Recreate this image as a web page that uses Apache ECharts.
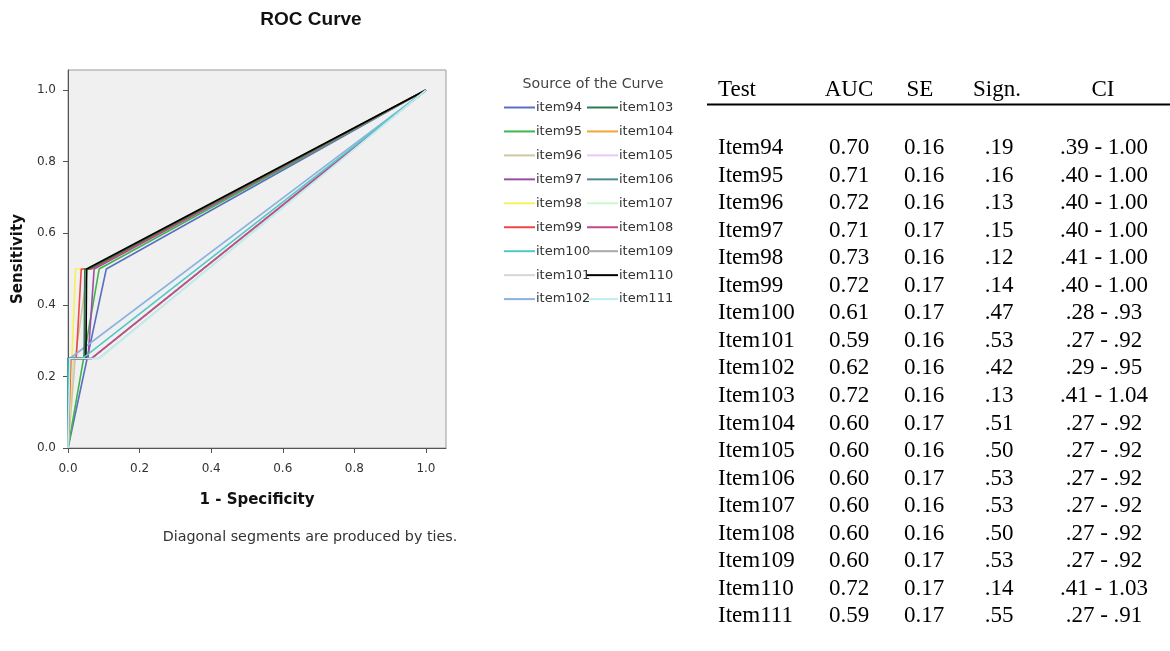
<!DOCTYPE html>
<html>
<head>
<meta charset="utf-8">
<script src="https://cdn.jsdelivr.net/npm/echarts@6/dist/echarts.min.js"></script>
<style>
html,body{margin:0;padding:0;background:#fff;}
#chart{width:1170px;height:651px;}
</style>
</head>
<body>
<div id="chart"></div>
<script>
// ---------- DATA ----------
const seriesNames = ['item94','item95','item96','item97','item98','item99','item100','item101','item102',
  'item103','item104','item105','item106','item107','item108','item109','item110','item111'];

// ROC points [1 - Specificity, Sensitivity]
const roc94  = [[0,0],[0.107,0.5],[1,1]];
const roc95  = [[0,0],[0.087,0.5],[1,1]];
const roc96  = [[0,0],[0.02,0.25],[0.055,0.5],[1,1]];
const roc97  = [[0,0],[0.005,0.25],[0.056,0.25],[0.073,0.5],[1,1]];
const roc98  = [[0,0],[0.011,0.25],[0.021,0.5],[0.055,0.5],[1,1]];
const roc99  = [[0,0],[0.008,0.25],[0.023,0.25],[0.037,0.5],[0.065,0.5],[1,1]];
const roc100 = [[0,0],[0,0.25],[0.04,0.25],[1,1]];
const roc101 = [[0,0],[0.015,0.25],[0.085,0.25],[1,1]];
const roc102 = [[0,0],[0.005,0.25],[1,1]];
const roc103 = [[0,0],[0,0.25],[0.045,0.25],[0.047,0.5],[0.06,0.5],[1,1]];
const roc104 = [[0,0],[0.005,0.25],[0.065,0.25],[1,1]];
const roc105 = [[0,0],[0.01,0.25],[0.065,0.25],[1,1]];
const roc106 = [[0,0],[0,0.25],[0.065,0.25],[1,1]];
const roc107 = [[0,0],[0.005,0.25],[0.065,0.25],[1,1]];
const roc108 = [[0,0],[0.005,0.25],[0.065,0.25],[1,1]];
const roc109 = [[0,0],[0,0.25],[0.065,0.25],[1,1]];
const roc110 = [[0,0],[0,0.25],[0.05,0.25],[0.052,0.5],[1,1]];
const roc111 = [[0,0],[0.005,0.25],[0.088,0.25],[1,1]];
const rocData = [roc94,roc95,roc96,roc97,roc98,roc99,roc100,roc101,roc102,
  roc103,roc104,roc105,roc106,roc107,roc108,roc109,roc110,roc111];

const axisTicks = [0, 0.2, 0.4, 0.6, 0.8, 1.0];

// table
const tableHeader = ['Test','AUC','SE','Sign.','CI'];
const testNames = ['Item94','Item95','Item96','Item97','Item98','Item99','Item100','Item101','Item102',
  'Item103','Item104','Item105','Item106','Item107','Item108','Item109','Item110','Item111'];
const aucVals = ['0.70','0.71','0.72','0.71','0.73','0.72','0.61','0.59','0.62','0.72','0.60','0.60','0.60','0.60','0.60','0.60','0.72','0.59'];
const seVals = ['0.16','0.16','0.16','0.17','0.16','0.17','0.17','0.16','0.16','0.16','0.17','0.16','0.17','0.16','0.16','0.17','0.17','0.17'];
const signVals = ['.19','.16','.13','.15','.12','.14','.47','.53','.42','.13','.51','.50','.53','.53','.50','.53','.14','.55'];
const ciVals = ['.39 - 1.00','.40 - 1.00','.40 - 1.00','.40 - 1.00','.41 - 1.00','.40 - 1.00','.28 - .93','.27 - .92','.29 - .95',
  '.41 - 1.04','.27 - .92','.27 - .92','.27 - .92','.27 - .92','.27 - .92','.27 - .92','.41 - 1.03','.27 - .91'];

// ---------- STYLE ----------
const seriesColors = ['#5a6fc2','#3fb54e','#cfc7a0','#9a4fa3','#f7f05a','#f04646','#4fc9c6','#d6d6d6','#8bb2e0',
  '#2f7a50','#f5a236','#e6c9f6','#4d8a98','#cdf7cd','#c24a8a','#a9a9a9','#000000','#bfeef0'];
const seriesZ = [3,3,3,3,3,3,4,2,3, 3,2,2,2,2,3,2,3,4];
const chartFont = 'DejaVu Sans';
const tableFont = '"Liberation Serif", "Times New Roman", serif';

const chart = echarts.init(document.getElementById('chart'), null, {renderer: 'canvas'});

const series = seriesNames.map((n, i) => ({
  name: n,
  type: 'line',
  data: rocData[i],
  showSymbol: false,
  symbol: 'none',
  color: seriesColors[i],
  lineStyle: {width: 1.6, color: seriesColors[i]},
  animation: false,
  z: seriesZ[i]
}));

// table graphics
const graphics = [];
graphics.push({type:'text', style:{text:'ROC Curve', x:311, y:20, textAlign:'center', textVerticalAlign:'middle',
  font:'bold 19px "Liberation Sans", Arial, sans-serif', fill:'#111'}});
graphics.push({type:'text', style:{text:'Diagonal segments are produced by ties.', x:310, y:537, textAlign:'center', textVerticalAlign:'middle',
  font:'14.3px ' + chartFont, fill:'#333'}});
graphics.push({type:'text', style:{text:'Source of the Curve', x:593, y:84, textAlign:'center', textVerticalAlign:'middle',
  font:'14.2px ' + chartFont, fill:'#444'}});

const headX = [718, 849, 920, 997, 1103];
const headAlign = ['left','center','center','center','center'];
tableHeader.forEach((h, j) => {
  graphics.push({type:'text', style:{text:h, x:headX[j], y:90, textAlign:headAlign[j], textVerticalAlign:'middle',
    font:'23px ' + tableFont, fill:'#000'}});
});
graphics.push({type:'line', shape:{x1:707, y1:104.5, x2:1170, y2:104.5}, style:{stroke:'#000', lineWidth:2}});

const colX = [718, 849, 924, 999, 1104];
testNames.forEach((t, i) => {
  const y = 148 + i * 27.55;
  const vals = [t, aucVals[i], seVals[i], signVals[i], ciVals[i]];
  vals.forEach((v, j) => {
    graphics.push({type:'text', style:{text:v, x:colX[j], y:y, textAlign: j === 0 ? 'left' : 'center',
      textVerticalAlign:'middle', font:'23px ' + tableFont, fill:'#000'}});
  });
});

const axisCommon = {
  type: 'value',
  min: 0,
  max: 1.056,
  nameLocation: 'middle',
  nameTextStyle: {fontFamily: chartFont, fontWeight: 'bold', fontSize: 15, color: '#111'},
  axisLine: {show: true, onZero: false, lineStyle: {color: '#555', width: 1}},
  axisTick: {show: true, inside: false, length: 5, lineStyle: {color: '#555'}, customValues: axisTicks},
  axisLabel: {fontFamily: chartFont, fontSize: 12, color: '#333', customValues: axisTicks,
    formatter: v => v.toFixed(1)},
  splitLine: {show: false}
};

const legendCommon = {
  orient: 'vertical',
  padding: 0,
  itemWidth: 31,
  itemHeight: 14,
  itemGap: 10.95,
  selectedMode: false,
  itemStyle: {opacity: 0, borderWidth: 0},
  textStyle: {fontFamily: chartFont, fontSize: 13, color: '#333', padding: [0,0,0,-4]}
};

chart.setOption({
  animation: false,
  backgroundColor: '#fff',
  grid: {left: 68, top: 70, width: 378, height: 378, show: true, backgroundColor: '#f0f0f0', borderColor: '#9a9a9a', borderWidth: 1},
  xAxis: Object.assign({}, axisCommon, {name: '1 - Specificity', nameGap: 45,
    axisLabel: Object.assign({}, axisCommon.axisLabel, {margin: 15})}),
  yAxis: Object.assign({}, axisCommon, {name: 'Sensitivity', nameGap: 42, nameRotate: 90,
    axisLabel: Object.assign({}, axisCommon.axisLabel, {margin: 12})}),
  legend: [
    Object.assign({}, legendCommon, {left: 503, top: 101, data: seriesNames.slice(0, 9)}),
    Object.assign({}, legendCommon, {left: 586, top: 101, data: seriesNames.slice(9)})
  ],
  graphic: graphics,
  series: series
});
</script>
</body>
</html>
